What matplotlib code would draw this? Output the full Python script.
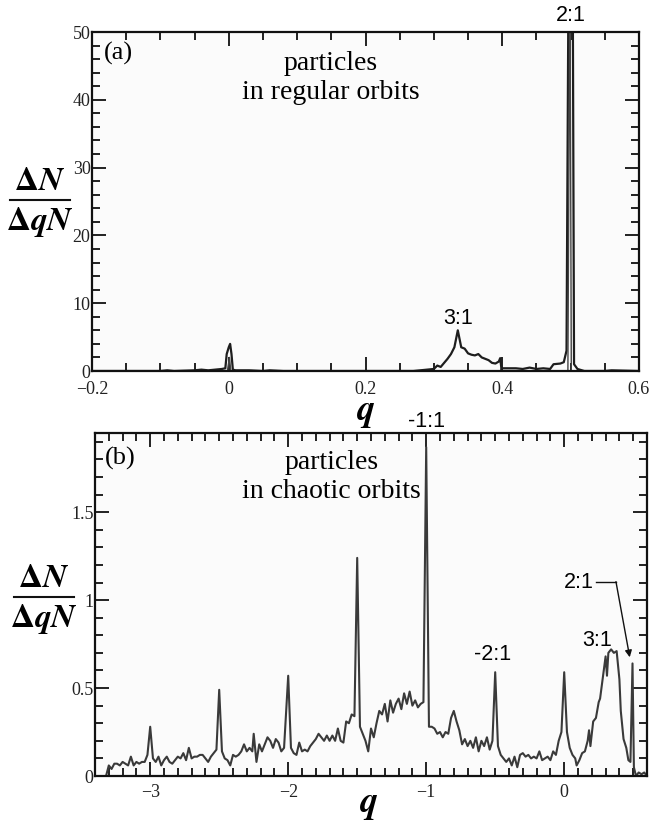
import matplotlib
matplotlib.use("Agg")
import matplotlib.pyplot as plt
from matplotlib.ticker import MultipleLocator, FuncFormatter
from matplotlib.lines import Line2D

plt.rcParams['mathtext.fontset'] = 'stix'

# (a) regular orbits
q_reg = [-0.20, -0.10, -0.09, -0.08, -0.05, -0.04, -0.03, -0.02, -0.01, -0.005,
         -0.003, 0.0, 0.002, 0.004, 0.006, 0.01, 0.03, 0.05, 0.06, 0.08,
         0.27, 0.28, 0.29, 0.30, 0.305, 0.31, 0.315, 0.32, 0.325, 0.33,
         0.335, 0.34, 0.345, 0.35, 0.355, 0.36, 0.365, 0.37, 0.375, 0.38,
         0.385, 0.39, 0.395, 0.397, 0.399, 0.40, 0.41, 0.42, 0.43, 0.44,
         0.45, 0.46, 0.47, 0.475, 0.485, 0.49, 0.494, 0.497, 0.503, 0.505,
         0.51, 0.52, 0.55, 0.56, 0.60]
n_reg = [0, 0, 0.1, 0, 0.1, 0.2, 0.1, 0.2, 0.3, 0.4,
         2.5, 3.5, 4.0, 2.5, 0.2, 0.1, 0.1, 0.0, 0.1, 0,
         0, 0.1, 0.2, 0.3, 0.8, 0.6, 1.2, 1.8, 2.5, 3.5,
         6.0, 3.5, 3.3, 2.6, 2.4, 2.3, 2.5, 2.0, 1.8, 1.6,
         1.2, 1.1, 1.4, 1.9, 0.15, 0.4, 0.4, 0.4, 0.3, 0.5,
         0.3, 0.4, 0.3, 1.0, 1.1, 1.3, 3.0, 60, 60, 1.0,
         0.3, 0.0, 0.0, 0.1, 0]
# second, overlapping histogram in the narrow resonance bins
q_reg2 = [-0.002, 0.001, 0.003, 0.496, 0.499, 0.501]
n_reg2 = [0, 2.0, 0, 0, 60, 0]

# (b) chaotic orbits
q_cha = [-3.32, -3.30, -3.28, -3.26, -3.24, -3.22, -3.20, -3.18, -3.16, -3.14,
         -3.12, -3.10, -3.08, -3.06, -3.04, -3.02, -3.00, -2.98, -2.96, -2.94,
         -2.92, -2.90, -2.88, -2.86, -2.84, -2.82, -2.80, -2.78, -2.76, -2.74,
         -2.72, -2.70, -2.68, -2.66, -2.64, -2.62, -2.60, -2.58, -2.56, -2.54,
         -2.52, -2.50, -2.48, -2.46, -2.44, -2.42, -2.40, -2.38, -2.36, -2.34,
         -2.32, -2.30, -2.28, -2.26, -2.25, -2.23, -2.21, -2.19, -2.17, -2.15,
         -2.13, -2.11, -2.09, -2.07, -2.05, -2.03, -2.00, -1.98, -1.96, -1.94,
         -1.92, -1.90, -1.88, -1.86, -1.84, -1.82, -1.80, -1.78, -1.76, -1.74,
         -1.72, -1.70, -1.68, -1.66, -1.64, -1.62, -1.60, -1.58, -1.56, -1.54,
         -1.52, -1.50, -1.48, -1.46, -1.44, -1.42, -1.40, -1.38, -1.36, -1.34,
         -1.32, -1.30, -1.28, -1.26, -1.24, -1.22, -1.20, -1.18, -1.16, -1.14,
         -1.12, -1.10, -1.08, -1.06, -1.04, -1.02, -1.00, -0.98, -0.96, -0.94,
         -0.92, -0.90, -0.88, -0.86, -0.84, -0.82, -0.80, -0.78, -0.76, -0.74,
         -0.72, -0.70, -0.68, -0.66, -0.64, -0.62, -0.60, -0.58, -0.56, -0.54,
         -0.52, -0.50, -0.48, -0.46, -0.44, -0.42, -0.40, -0.38, -0.36, -0.34,
         -0.32, -0.30, -0.28, -0.26, -0.24, -0.22, -0.20, -0.18, -0.16, -0.14,
         -0.12, -0.10, -0.08, -0.06, -0.04, -0.02, 0.00, 0.02, 0.04, 0.06,
         0.08, 0.09, 0.11, 0.13, 0.15, 0.17, 0.18, 0.19, 0.21, 0.23,
         0.25, 0.26, 0.28, 0.30, 0.31, 0.32, 0.34, 0.36, 0.38, 0.40,
         0.41, 0.43, 0.45, 0.465, 0.48, 0.495, 0.505, 0.52, 0.54, 0.56,
         0.58, 0.60]
n_cha = [0.0, 0.06, 0.04, 0.07, 0.07, 0.06, 0.08, 0.07, 0.06, 0.11,
         0.06, 0.08, 0.07, 0.08, 0.08, 0.12, 0.28, 0.10, 0.08, 0.11,
         0.06, 0.09, 0.11, 0.08, 0.07, 0.09, 0.11, 0.10, 0.13, 0.09,
         0.16, 0.10, 0.11, 0.11, 0.12, 0.12, 0.10, 0.08, 0.11, 0.13,
         0.15, 0.49, 0.14, 0.10, 0.09, 0.06, 0.12, 0.11, 0.12, 0.14,
         0.18, 0.14, 0.16, 0.14, 0.24, 0.08, 0.18, 0.14, 0.18, 0.22,
         0.20, 0.16, 0.21, 0.19, 0.14, 0.16, 0.57, 0.16, 0.13, 0.12,
         0.19, 0.14, 0.15, 0.14, 0.17, 0.19, 0.21, 0.24, 0.22, 0.20,
         0.23, 0.20, 0.23, 0.20, 0.27, 0.20, 0.19, 0.31, 0.30, 0.35,
         0.34, 1.24, 0.28, 0.24, 0.20, 0.14, 0.27, 0.22, 0.30, 0.37,
         0.35, 0.41, 0.31, 0.43, 0.36, 0.41, 0.44, 0.38, 0.47, 0.41,
         0.48, 0.40, 0.43, 0.39, 0.41, 0.42, 1.87, 0.28, 0.28, 0.27,
         0.24, 0.25, 0.22, 0.25, 0.24, 0.33, 0.37, 0.31, 0.26, 0.18,
         0.21, 0.17, 0.20, 0.16, 0.22, 0.14, 0.20, 0.17, 0.22, 0.15,
         0.20, 0.59, 0.17, 0.12, 0.10, 0.08, 0.10, 0.06, 0.11, 0.05,
         0.12, 0.13, 0.11, 0.12, 0.10, 0.11, 0.10, 0.14, 0.09, 0.10,
         0.11, 0.09, 0.14, 0.12, 0.20, 0.25, 0.59, 0.25, 0.16, 0.12,
         0.10, 0.06, 0.09, 0.13, 0.14, 0.20, 0.26, 0.17, 0.31, 0.33,
         0.42, 0.44, 0.56, 0.68, 0.57, 0.70, 0.72, 0.70, 0.71, 0.55,
         0.37, 0.21, 0.16, 0.09, 0.08, 0.64, 0.05, 0.0, 0.02, 0.01,
         0.02, 0.0]

serif = 'Liberation Serif'
sans = 'Liberation Sans'


def fmt(v, pos):
    s = ('%g' % v).replace('-', '\u2212')
    return s


def style_axes(ax, xmaj, xmin, ymaj, ymin, xpad):
    ax.set_facecolor('#fbfbfb')
    ax.xaxis.set_major_locator(MultipleLocator(xmaj))
    ax.xaxis.set_minor_locator(MultipleLocator(xmin))
    ax.yaxis.set_major_locator(MultipleLocator(ymaj))
    ax.yaxis.set_minor_locator(MultipleLocator(ymin))
    ax.xaxis.set_major_formatter(FuncFormatter(fmt))
    ax.yaxis.set_major_formatter(FuncFormatter(fmt))
    ax.tick_params(which='both', direction='in', top=True, right=True,
                   width=1.3, colors='#111111', labelcolor='#222222')
    ax.tick_params(which='major', length=10)
    ax.tick_params(which='minor', length=5.5)
    ax.tick_params(axis='x', pad=xpad)
    ax.tick_params(axis='y', pad=1)
    for lab in ax.get_xticklabels() + ax.get_yticklabels():
        lab.set_fontfamily(serif)
        lab.set_fontsize(13)
    for sp in ax.spines.values():
        sp.set_linewidth(1.6)
        sp.set_color('#111111')


fig = plt.figure(figsize=(6.51, 8.21), dpi=100)

# ---- panel (a)
ax1 = fig.add_axes([92 / 651, 1 - 371 / 821, 547 / 651, 339 / 821])
ax1.plot(q_reg, n_reg, color='#1e1e1e', lw=1.6)
ax1.plot(q_reg2, n_reg2, color='#444444', lw=1.0)
ax1.set_xlim(-0.2, 0.6)
ax1.set_ylim(0, 50)
style_axes(ax1, 0.2, 0.05, 10, 2, 7)
ax1.text(0.021, 0.937, '(a)', transform=ax1.transAxes, fontfamily=serif,
         fontsize=19, va='center', ha='left')
ax1.text(0.437, 0.865, 'particles\nin regular orbits', transform=ax1.transAxes,
         fontfamily=serif, fontsize=20, ha='center', va='center', linespacing=1.2)
ax1.text(0.335, 7.8, '3:1', fontfamily=sans, fontsize=15.5, ha='center', va='center')
ax1.annotate('2:1', xy=(0.5, 50), xytext=(0, 4), textcoords='offset points',
             fontfamily=sans, fontsize=15.5, ha='center', va='bottom',
             annotation_clip=False)

# ---- panel (b)
ax2 = fig.add_axes([95 / 651, 1 - 776 / 821, 552 / 651, 343 / 821])
ax2.plot(q_cha, n_cha, color='#3a3a3a', lw=1.5)
ax2.set_xlim(-3.4, 0.6)
ax2.set_ylim(0, 1.95)
style_axes(ax2, 1, 0.1, 0.5, 0.1, 5.5)
ax2.text(0.018, 0.925, '(b)', transform=ax2.transAxes, fontfamily=serif,
         fontsize=19, va='center', ha='left')
ax2.text(0.428, 0.871, 'particles\nin chaotic orbits', transform=ax2.transAxes,
         fontfamily=serif, fontsize=20, ha='center', va='center', linespacing=1.2)
ax2.annotate('-1:1', xy=(-1.0, 1.95), xytext=(0, 1), textcoords='offset points',
             fontfamily=sans, fontsize=15.5, ha='center', va='bottom',
             annotation_clip=False)
ax2.text(-0.52, 0.69, '-2:1', fontfamily=sans, fontsize=15.5, ha='center', va='center')
ax2.text(0.235, 0.77, '3:1', fontfamily=sans, fontsize=15.5, ha='center', va='center')
ax2.text(0.108, 1.10, '2:1', fontfamily=sans, fontsize=15.5, ha='center', va='center')
ax2.plot([0.23, 0.375], [1.105, 1.105], color='#111111', lw=1.0)
ax2.annotate('', xy=(0.475, 0.675), xytext=(0.375, 1.105),
             arrowprops=dict(arrowstyle='-|>', color='#111111', lw=1.0,
                             mutation_scale=10, shrinkA=0, shrinkB=0))

# ---- axis labels: dN / (dq N) and q
for yc in (200, 597):
    xc = 40 if yc == 200 else 44
    fig.text(xc / 651, 1 - (yc - 20) / 821, r'$\mathbf{\Delta}\boldsymbol{N}$',
             fontsize=24, ha='center', va='center')
    fig.text(xc / 651, 1 - (yc + 22) / 821, r'$\mathbf{\Delta}\boldsymbol{qN}$',
             fontsize=24, ha='center', va='center')
    fig.add_artist(Line2D([(xc - 30) / 651, (xc + 30) / 651],
                          [1 - yc / 821, 1 - yc / 821],
                          color='#111111', lw=1.5, transform=fig.transFigure))
fig.text(366 / 651, 1 - 413 / 821, r'$\boldsymbol{q}$', fontsize=26,
         ha='center', va='center')
fig.text(369 / 651, 1 - 805 / 821, r'$\boldsymbol{q}$', fontsize=26,
         ha='center', va='center')

fig.savefig('out.png', dpi=100, facecolor='white')
